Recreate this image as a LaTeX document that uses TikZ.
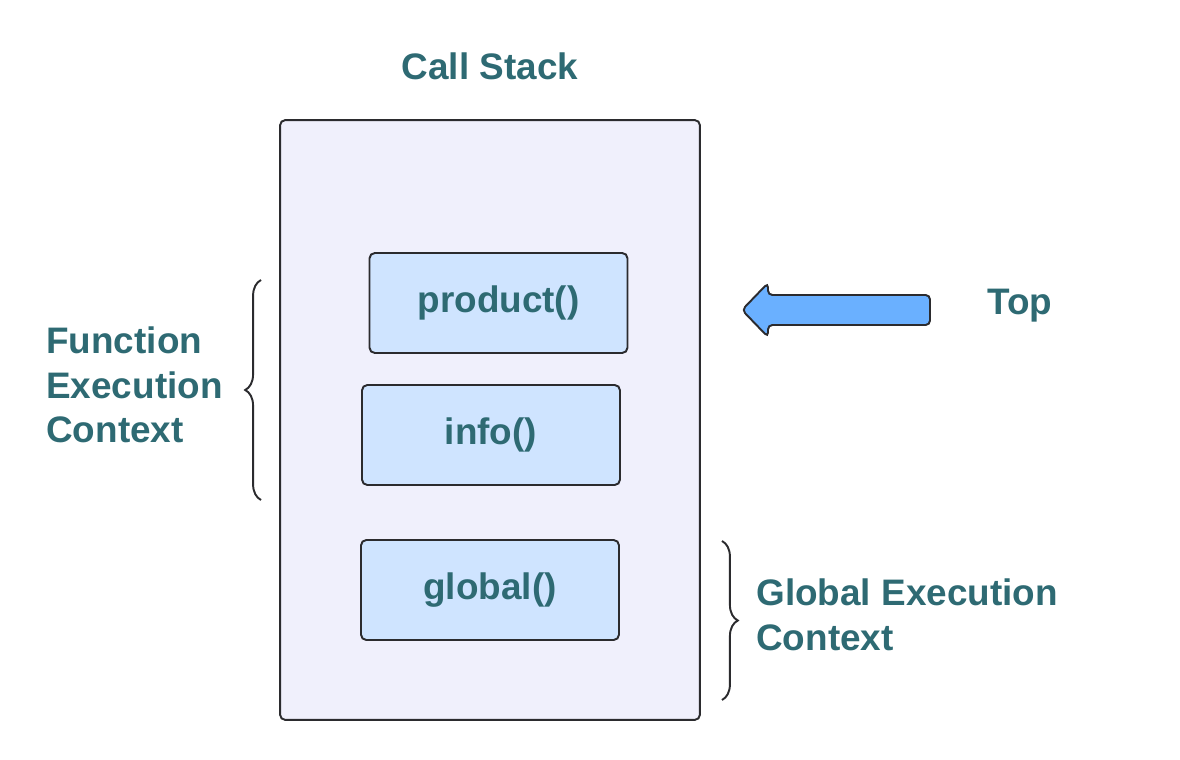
\documentclass[tikz,border=0pt]{standalone}
\usepackage{fontspec}
\setmainfont{Liberation Sans}
\usetikzlibrary{decorations.pathreplacing}

\definecolor{labelteal}{HTML}{2E6A73}
\definecolor{stackfill}{HTML}{F0F0FC}
\definecolor{framefill}{HTML}{CFE4FF}
\definecolor{arrowblue}{HTML}{6AB0FF}
\definecolor{edgegray}{HTML}{2B2B2E}

\tikzset{
  txt/.style={text=labelteal,font=\fontsize{21}{25.5}\selectfont\bfseries,inner sep=0pt},
  frame/.style={draw=edgegray,line width=1.1pt,fill=framefill,rounded corners=3pt,
    minimum width=5.16cm,minimum height=2cm,txt},
  curly/.style={draw=edgegray,line width=1.1pt,decorate,decoration={brace,amplitude=9pt}}
}

\begin{document}
\begin{tikzpicture}[x=0.02cm,y=-0.02cm]
		\useasboundingbox (0,0) rectangle (1180,760);
		% stack container
		\node[draw=edgegray,line width=1.1pt,fill=stackfill,rounded corners=3pt,
		  minimum width=8.4cm,minimum height=12cm,inner sep=0pt] (stack) at (490,420) {};
		\node[txt] (title) at (490,66) {Call Stack};
		% execution contexts
		\node[frame] (product) at (498.5,303) {product()};
		\node[frame] (info) at (491,435) {info()};
		\node[frame] (global) at (490,590) {global()};
		% top pointer
		\draw[draw=edgegray,line width=1.1pt,fill=arrowblue,rounded corners=2.5pt]
		  (930,295) -- (768,295) -- (768,283) -- (742,310) -- (768,337) -- (768,325)
		  -- (930,325) -- cycle;
		\node[txt] (top) at (1020,306) {Top};
		% braces
		\coordinate (fb) at (261,500);
		\coordinate (ft) at (261,280);
		\draw[curly] (fb) -- (ft);
		\node[txt,anchor=west,align=left] (fec) at (46,385) {Function\\Execution\\Context};
		\coordinate (gt) at (722,541);
		\coordinate (gb) at (722,700);
		\draw[curly] (gt) -- (gb);
		\node[txt,anchor=west,align=left] (gec) at (756,615) {Global Execution\\Context};
\end{tikzpicture}
\end{document}
